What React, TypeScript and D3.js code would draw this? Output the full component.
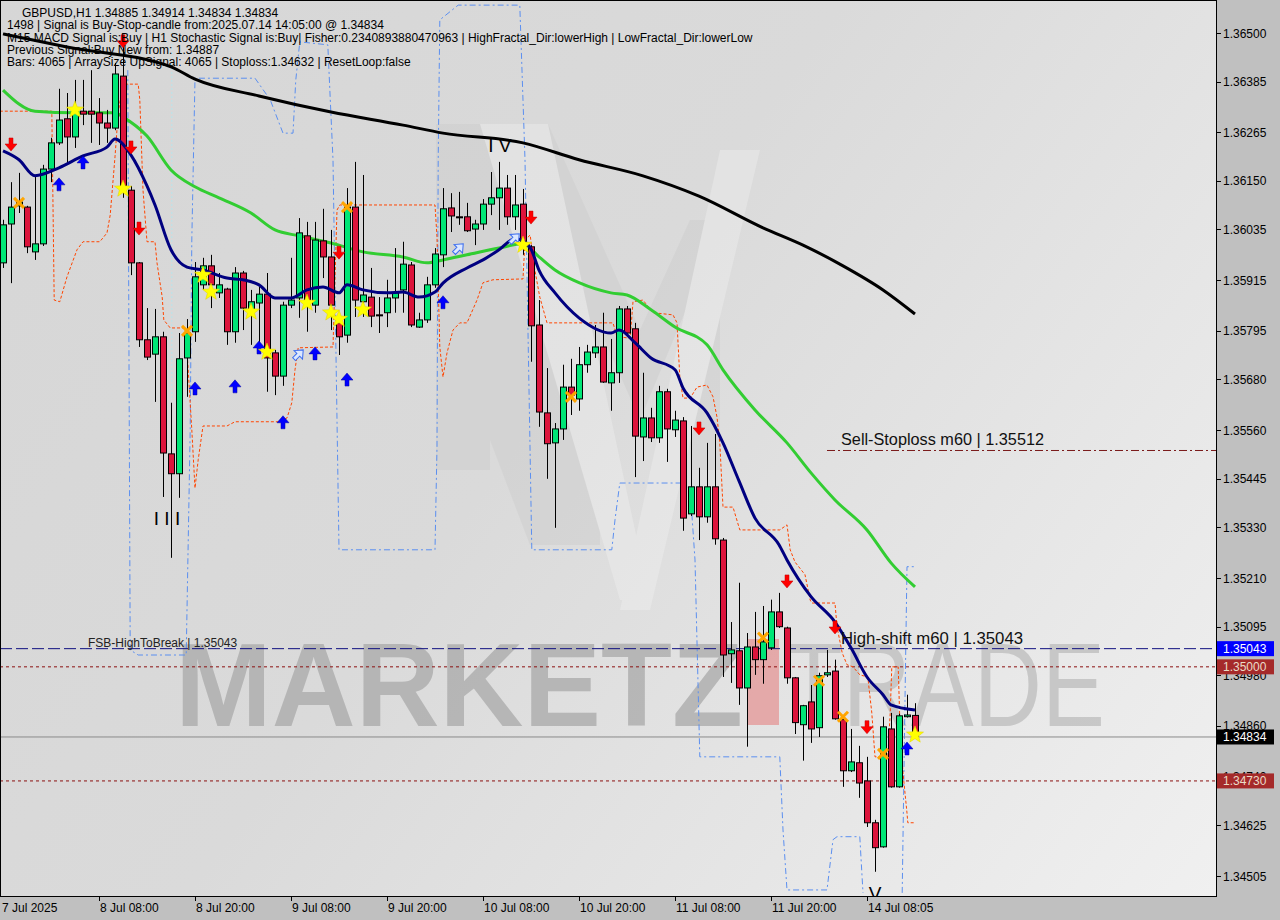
import React from "react";
import * as d3 from "d3";

// ---------- DATA (prices) ----------
const opens = [1.35956,1.36048,1.36091,1.36088,1.35982,1.36001,1.36178,1.36240,1.36297,1.36254,1.36315,1.36315,1.36311,1.36287,1.36275,1.36398,1.36128,1.35956,1.35774,1.35740,1.35781,1.35504,1.35457,1.35731,1.35793,1.35904,1.35949,1.35885,1.35894,1.35793,1.35932,1.35845,1.35861,1.35882,1.35743,1.35688,1.35856,1.35873,1.36020,1.35856,1.36008,1.35970,1.35814,1.35785,1.36088,1.35864,1.35875,1.35833,1.35838,1.35873,1.35892,1.35951,1.35804,1.35821,1.35904,1.35975,1.36086,1.36065,1.36065,1.36036,1.36048,1.36095,1.36110,1.36133,1.36065,1.36095,1.35994,1.35809,1.35601,1.35530,1.35563,1.35662,1.35634,1.35715,1.35743,1.35757,1.35672,1.35696,1.35847,1.35800,1.35544,1.35589,1.35542,1.35651,1.35561,1.35582,1.35362,1.35426,1.35355,1.35426,1.35300,1.35031,1.35038,1.34950,1.35047,1.35017,1.35045,1.35130,1.35092,1.34974,1.34863,1.34917,1.34856,1.34981,1.34990,1.34875,1.34754,1.34773,1.34730,1.34631,1.34574,1.34853,1.34716,1.34882,1.34885];
const highs = [1.36058,1.36147,1.36169,1.36091,1.36164,1.36188,1.36252,1.36368,1.36358,1.36389,1.36389,1.36412,1.36346,1.36318,1.36429,1.36479,1.36138,1.35958,1.35849,1.35847,1.35793,1.35625,1.35790,1.35823,1.35958,1.35968,1.35975,1.35932,1.35897,1.35946,1.35937,1.35892,1.35899,1.35932,1.35750,1.35864,1.35968,1.36062,1.36053,1.36053,1.36084,1.36034,1.35826,1.36133,1.36195,1.36164,1.35944,1.35875,1.35916,1.35991,1.36006,1.35958,1.35838,1.35923,1.35991,1.36133,1.36121,1.36124,1.36098,1.36058,1.36107,1.36171,1.36195,1.36164,1.36164,1.36131,1.35998,1.35868,1.35707,1.35577,1.35715,1.35729,1.35757,1.35762,1.35809,1.35838,1.35776,1.35854,1.35854,1.35814,1.35696,1.35613,1.35665,1.35658,1.35606,1.35591,1.35570,1.35471,1.35530,1.35551,1.35305,1.35106,1.35199,1.35080,1.35130,1.35144,1.35159,1.35175,1.35095,1.34976,1.34910,1.34957,1.34986,1.35040,1.35017,1.34882,1.34853,1.34813,1.34787,1.34638,1.34882,1.34891,1.34889,1.34934,1.34914];
const lows = [1.35944,1.35908,1.36074,1.35979,1.35963,1.35996,1.36147,1.36235,1.36188,1.36228,1.36282,1.36240,1.36235,1.36240,1.36270,1.36110,1.35927,1.35757,1.35726,1.35627,1.35402,1.35258,1.35400,1.35639,1.35769,1.35892,1.35849,1.35873,1.35762,1.35767,1.35797,1.35762,1.35755,1.35651,1.35643,1.35665,1.35849,1.35826,1.35793,1.35838,1.35920,1.35797,1.35738,1.35767,1.35828,1.35828,1.35804,1.35790,1.35804,1.35838,1.35838,1.35804,1.35802,1.35814,1.35897,1.35946,1.36029,1.36046,1.36029,1.35998,1.36034,1.36069,1.36034,1.36046,1.36034,1.35975,1.35722,1.35568,1.35445,1.35329,1.35537,1.35596,1.35606,1.35696,1.35731,1.35672,1.35606,1.35672,1.35781,1.35449,1.35487,1.35532,1.35530,1.35485,1.35544,1.35322,1.35357,1.35300,1.35341,1.35289,1.34976,1.34962,1.34910,1.34811,1.34981,1.34960,1.35040,1.35092,1.34960,1.34841,1.34778,1.34820,1.34834,1.34976,1.34875,1.34716,1.34751,1.34690,1.34621,1.34515,1.34572,1.34714,1.34714,1.34880,1.34834];
const closes = [1.36046,1.36088,1.36100,1.35994,1.36001,1.36178,1.36240,1.36294,1.36254,1.36313,1.36308,1.36308,1.36287,1.36275,1.36403,1.36138,1.35956,1.35774,1.35733,1.35781,1.35506,1.35457,1.35729,1.35790,1.35923,1.35949,1.35904,1.35904,1.35793,1.35932,1.35849,1.35864,1.35882,1.35731,1.35688,1.35856,1.35868,1.36027,1.35861,1.36010,1.35970,1.35856,1.35781,1.36088,1.35868,1.35880,1.35830,1.35832,1.35873,1.35885,1.35953,1.35809,1.35821,1.35904,1.35977,1.36084,1.36067,1.36064,1.36032,1.36048,1.36095,1.36110,1.36133,1.36065,1.36093,1.35994,1.35807,1.35603,1.35528,1.35563,1.35662,1.35643,1.35715,1.35745,1.35757,1.35674,1.35696,1.35847,1.35790,1.35546,1.35589,1.35542,1.35651,1.35563,1.35584,1.35352,1.35426,1.35355,1.35426,1.35303,1.35028,1.35040,1.34950,1.35047,1.35017,1.35059,1.35130,1.35095,1.34974,1.34868,1.34908,1.34853,1.34979,1.34986,1.34877,1.34754,1.34775,1.34725,1.34631,1.34572,1.34858,1.34716,1.34884,1.34886,1.34834];

// moving averages (bar index, price)
const maSlowIdx = [0,8,21,24,32,41,50,55,65,72,80,87,95,100,105,110,114];
const maSlowVal = [1.36498,1.36467,1.36420,1.36391,1.36351,1.36313,1.36282,1.36263,1.36240,1.36200,1.36162,1.36114,1.36039,1.35998,1.35949,1.35892,1.35835];
const maMidIdx = [0,4,9,14,15,18,21,24,27,31,34,37,41,45,50,53,55,58,62,65,67,69,72,76,78,81,84,88,90,94,98,101,104,108,111,114];
const maMidVal = [1.36365,1.36315,1.36311,1.36311,1.36301,1.36256,1.36176,1.36136,1.36110,1.36074,1.36034,1.36020,1.36003,1.35982,1.35970,1.35956,1.35963,1.35975,1.35991,1.36001,1.35970,1.35939,1.35909,1.35885,1.35880,1.35845,1.35804,1.35762,1.35703,1.35608,1.35530,1.35459,1.35395,1.35324,1.35246,1.35189];
const maFastIdx = [0,2,4,7,10,13,14,16,18,19,21,23,25,28,30,32,34,36,38,40,42,43,45,48,50,52,54,55,58,60,62,64,65,66,67,69,72,76,77,79,81,84,85,88,90,92,94,97,98,101,104,106,108,110,111,114];
const maFastVal = [1.36221,1.36200,1.36162,1.36181,1.36209,1.36230,1.36249,1.36211,1.36138,1.36093,1.35987,1.35946,1.35939,1.35920,1.35916,1.35904,1.35873,1.35873,1.35892,1.35899,1.35885,1.35904,1.35892,1.35885,1.35887,1.35875,1.35887,1.35908,1.35944,1.35963,1.35987,1.36013,1.36008,1.35989,1.35939,1.35885,1.35826,1.35790,1.35797,1.35767,1.35731,1.35703,1.35660,1.35601,1.35530,1.35440,1.35352,1.35289,1.35253,1.35166,1.35106,1.35045,1.34976,1.34934,1.34910,1.34898];

// trailing stop (orange dashed)
const stopIdx = [-0.4,6.1,6.4,7.1,8,9.25,10,12.1,13,13.4,14,14.4,14.9,15.5,16.9,17.1,17.5,18,19,19.25,19.9,20.1,20.9,22.75,23.1,23.6,24,24.4,25,28,29,34.4,35.5,36.1,36.5,36.9,41.25,41.75,42.1,54,54.25,54.6,55,55.5,56.25,57.1,58,59.25,60,61.25,65,65.25,65.9,66.25,67.1,68,76.25,76.75,78.4,78.75,80,81.25,83.75,84.25,84.6,85,85.9,86.75,88,88.75,89.25,89.6,90,91.25,92.1,97.1,98,98.4,99,100.25,100.9,101.1,104,104.25,104.9,105.5,106.25,107.1,108.1,108.6,109,110.6,110.9,111.1,111.9,112.1,112.5,113,113.1,114];
const stopVal = [1.36315,1.36315,1.35868,1.35864,1.35923,1.35987,1.36006,1.36006,1.36027,1.36069,1.36207,1.36311,1.36372,1.36379,1.36379,1.36342,1.36128,1.36006,1.36006,1.35956,1.35875,1.35821,1.35802,1.35802,1.35719,1.35561,1.35423,1.35490,1.35570,1.35570,1.35580,1.35580,1.35589,1.35625,1.35703,1.35755,1.35757,1.36081,1.36093,1.36093,1.36017,1.35757,1.35686,1.35743,1.35797,1.35814,1.35814,1.35868,1.35909,1.35916,1.35918,1.36010,1.36022,1.35963,1.35875,1.35814,1.35814,1.35781,1.35778,1.35864,1.35868,1.35838,1.35833,1.35814,1.35686,1.35636,1.35636,1.35662,1.35667,1.35639,1.35591,1.35530,1.35378,1.35378,1.35324,1.35324,1.35336,1.35277,1.35248,1.35218,1.35158,1.35151,1.35151,1.35095,1.35033,1.35005,1.35000,1.34981,1.34976,1.34891,1.34787,1.34787,1.34891,1.35000,1.35000,1.34875,1.34749,1.34654,1.34631,1.34631];

// fractal channel (blue dash-dot)
const chanAIdx = [15.6,15.9,16.9,22.9,23.4,23.6,24,31.5,33.4,35,36.25,36.6,37.1,40.6,41.25,42,54,54.25,54.4,54.6,56.9,64.6,65.25,66.1,76.1,76.5,77.1,85,85.9,86.5,87.1,97.1,97.5,98,103,103.75,104.25,107.1,107.5];
const chanAVal = [1.36412,1.35040,1.35028,1.35028,1.35561,1.36010,1.36393,1.36393,1.36342,1.36263,1.36263,1.36389,1.36479,1.36472,1.36200,1.35277,1.35277,1.35520,1.36200,1.36531,1.36566,1.36566,1.36200,1.35277,1.35277,1.35348,1.35435,1.35435,1.35419,1.35253,1.34787,1.34787,1.34614,1.34472,1.34472,1.34591,1.34598,1.34598,1.34465];
const chanBIdx = [112.4,112.75,113,114];
const chanBVal = [1.34465,1.34922,1.35237,1.35237];

// signal markers (bar index, price)
const sellArrowIdx = [1,15,16,17,42,66,87,98,104,108];
const sellArrowVal = [1.36235,1.36479,1.36228,1.36036,1.35979,1.36062,1.35563,1.35201,1.35092,1.34856];
const buyArrowIdx = [7,10,24,29,32,35,39,43,55,113];
const buyArrowVal = [1.36143,1.36195,1.35660,1.35665,1.35757,1.35580,1.35743,1.35681,1.35864,1.34808];
const starIdx = [9,15,25,26,31,33,38,41,42,45,65,114];
const starVal = [1.36318,1.36131,1.35927,1.35887,1.35840,1.35745,1.35861,1.35838,1.35823,1.35845,1.35998,1.34839];
const crossIdx = [2,23,43,71,95,102,105,110];
const crossVal = [1.36098,1.35795,1.36088,1.35639,1.35069,1.34967,1.34882,1.34794];
const hollowIdx = [37,57,64];
const hollowVal = [1.35740,1.35991,1.36015];
const waveLabels = ["I I I", "I V", "V"];
const waveIdx = [20.5, 62.1, 109];
const waveVal = [1.35336, 1.36218, 1.34449];

// horizontal levels
const levelFSB = 1.35043;
const levelRound = 1.35;
const levelLow = 1.3473;
const levelBid = 1.34834;
const levelSellSL = 1.35512;

// axes
const yTickVals = [1.365,1.36385,1.36265,1.3615,1.36035,1.35915,1.35795,1.3568,1.3556,1.35445,1.3533,1.3521,1.35095,1.3498,1.3486,1.3474,1.34625,1.34505];
const yTickLabels = ["1.36500","1.36385","1.36265","1.36150","1.36035","1.35915","1.35795","1.35680","1.35560","1.35445","1.35330","1.35210","1.35095","1.34980","1.34860","1.34740","1.34625","1.34505"];
const xTickIdx = [0,12,24,36,48,60,72,84,96,108];
const xTickLabels = ["7 Jul 2025","8 Jul 08:00","8 Jul 20:00","9 Jul 08:00","9 Jul 20:00","10 Jul 08:00","10 Jul 20:00","11 Jul 08:00","11 Jul 20:00","14 Jul 08:05"];

const headerLines = [
  "GBPUSD,H1  1.34885 1.34914 1.34834 1.34834",
  "1498 | Signal is Buy-Stop-candle from:2025.07.14 14:05:00 @ 1.34834",
  "M15 MACD Signal is:Buy | H1 Stochastic Signal is:Buy| Fisher:0.2340893880470963 | HighFractal_Dir:lowerHigh | LowFractal_Dir:lowerLow",
  "Previous Signal:Buy New from: 1.34887",
  "Bars: 4065 | ArraySize UpSignal: 4065 | Stoploss:1.34632 | ResetLoop:false",
];

const priceBoxes = [
  { v: 1.35043, label: "1.35043", bg: "#0000ff", fg: "#ffffff" },
  { v: 1.35, label: "1.35000", bg: "#a52a2a", fg: "#eadcc8" },
  { v: 1.34834, label: "1.34834", bg: "#000000", fg: "#ffffff" },
  { v: 1.3473, label: "1.34730", bg: "#a52a2a", fg: "#eadcc8" },
];

// ---------- RENDER ----------
const FONT = "'Liberation Sans', Arial, sans-serif";
const PR = 1216; // plot right
const PB = 896; // plot bottom

function starPath(r1: number, r2: number) {
  const pts: string[] = [];
  for (let k = 0; k < 10; k++) {
    const r = k % 2 === 0 ? r1 : r2;
    const a = -Math.PI / 2 + (k * Math.PI) / 5;
    pts.push(`${(r * Math.cos(a)).toFixed(2)},${(r * Math.sin(a)).toFixed(2)}`);
  }
  return "M" + pts.join("L") + "Z";
}

export default function App() {
  const x = d3.scaleLinear().domain([0, 114]).range([3, 915]);
  const y = d3.scaleLinear().domain([1.34505, 1.365]).range([876, 33]);

  const mkLine = (idx: number[], vals: number[], curve: d3.CurveFactory) =>
    d3
      .line<number>()
      .x((_, k) => x(idx[k]))
      .y((v) => y(v))
      .curve(curve)(vals) || "";

  const downArrow = "M-2,-7L2,-7L2,-1L6,-1L0,6L-6,-1L-2,-1Z";
  const upArrow = "M-2,7L2,7L2,1L6,1L0,-6L-6,1L-2,1Z";
  const star = starPath(9, 3.8);

  return (
    <svg
      width={1280}
      height={920}
      style={{ position: "absolute", left: 0, top: 0, display: "block" }}
      fontFamily={FONT}
    >
      <defs>
        <linearGradient id="bg" x1="0" y1="0" x2={PR} y2={PB} gradientUnits="userSpaceOnUse">
          <stop offset="0" stopColor="#d6d6d6" />
          <stop offset="0.45" stopColor="#dadada" />
          <stop offset="1" stopColor="#f0f0f0" />
        </linearGradient>
        <clipPath id="plot">
          <rect x={0} y={0} width={PR} height={PB} />
        </clipPath>
      </defs>
      <rect x={0} y={0} width={1280} height={920} fill="#c0c0c0" />
      <rect x={0} y={0} width={PR} height={PB} fill="url(#bg)" />

      <g clipPath="url(#plot)">
        {/* faint logo watermark */}
        <g opacity={0.35}>
          <path d="M436,124L548,124L640,330L690,220L720,220L720,470L690,470L690,300L640,420L600,330L600,545L530,545L490,440L490,470L436,470Z" fill="#c8c8c8" />
          <path d="M480,124L548,124L650,600L620,600Z" fill="#f4f4f4" />
          <path d="M720,150L760,150L650,610L620,610Z" fill="#f4f4f4" />
        </g>
        {/* MARKETZITRADE watermark */}
        <text x={175} y={726} fontSize={118} fontWeight={700} fill="#a9a9a9" opacity={0.75} textLength={568} lengthAdjust="spacingAndGlyphs">MARKETZ</text>
        <rect x={747} y={639} width={32} height={86} fill="#e3a2a2" opacity={0.9} />
        <text x={785} y={726} fontSize={118} fontWeight={300} fill="#c2c2c2" opacity={0.85} textLength={320} lengthAdjust="spacingAndGlyphs">TRADE</text>

        {/* light guide */}
        <line x1={x(21.1)} x2={x(21.1)} y1={0} y2={y(1.35632)} stroke="#b8e4ec" strokeDasharray="2,2" />

        {/* fractal channel */}
        <path d={mkLine(chanAIdx, chanAVal, d3.curveLinear)} fill="none" stroke="#5b8ff0" strokeWidth={1} strokeDasharray="6,3,2,3" />
        <path d={mkLine(chanBIdx, chanBVal, d3.curveLinear)} fill="none" stroke="#5b8ff0" strokeWidth={1} strokeDasharray="6,3,2,3" />

        {/* levels */}
        <line x1={0} x2={PR} y1={y(levelFSB)} y2={y(levelFSB)} stroke="#101080" strokeDasharray="12,4" strokeWidth={1} />
        <line x1={0} x2={PR} y1={y(levelRound)} y2={y(levelRound)} stroke="#8b1010" strokeDasharray="3,3" strokeWidth={1} />
        <line x1={0} x2={PR} y1={y(levelLow)} y2={y(levelLow)} stroke="#8b1010" strokeDasharray="3,3" strokeWidth={1} />
        <line x1={0} x2={PR} y1={y(levelBid)} y2={y(levelBid)} stroke="#8a8a8a" strokeWidth={1} />
        <line x1={827} x2={PR} y1={y(levelSellSL)} y2={y(levelSellSL)} stroke="#7a1a1a" strokeDasharray="8,3,2,3" strokeWidth={1} />

        {/* trailing stop */}
        <path d={mkLine(stopIdx, stopVal, d3.curveLinear)} fill="none" stroke="#ff4500" strokeWidth={1} strokeDasharray="3,2" />

        {/* moving averages */}
        <path d={mkLine(maSlowIdx, maSlowVal, d3.curveMonotoneX)} fill="none" stroke="#000000" strokeWidth={3} />
        <path d={mkLine(maMidIdx, maMidVal, d3.curveMonotoneX)} fill="none" stroke="#32cd32" strokeWidth={3} />

        {/* candles */}
        {opens.map((o, i) => {
          const c = closes[i];
          const bull = c >= o;
          const top = y(Math.max(o, c));
          const bot = y(Math.min(o, c));
          const cx = Math.round(x(i)) + 0.5;
          return (
            <g key={i}>
              <line x1={cx} x2={cx} y1={y(highs[i])} y2={y(lows[i])} stroke="#000" strokeWidth={1} />
              <rect x={cx - 3} y={top} width={6} height={Math.max(1, bot - top)} fill={bull ? "#00e676" : "#dc143c"} stroke="#000" strokeWidth={1} />
            </g>
          );
        })}

        <path d={mkLine(maFastIdx, maFastVal, d3.curveMonotoneX)} fill="none" stroke="#000080" strokeWidth={3} />

        {/* markers */}
        {crossIdx.map((ix, k) => (
          <g key={"x" + k} transform={`translate(${x(ix)},${y(crossVal[k])})`} stroke="#ffa500" strokeWidth={3}>
            <line x1={-5} y1={-5} x2={5} y2={5} />
            <line x1={-5} y1={5} x2={5} y2={-5} />
          </g>
        ))}
        {sellArrowIdx.map((ix, k) => (
          <path key={"s" + k} d={downArrow} transform={`translate(${x(ix)},${y(sellArrowVal[k])})`} fill="#ff0000" stroke="#c00000" strokeWidth={0.5} />
        ))}
        {buyArrowIdx.map((ix, k) => (
          <path key={"b" + k} d={upArrow} transform={`translate(${x(ix)},${y(buyArrowVal[k])})`} fill="#0000ff" stroke="#0000a0" strokeWidth={0.5} />
        ))}
        {hollowIdx.map((ix, k) => (
          <path key={"h" + k} d={upArrow} transform={`translate(${x(ix)},${y(hollowVal[k])}) rotate(45)`} fill="#dce8ff" stroke="#3a6cf0" strokeWidth={1} />
        ))}
        {starIdx.map((ix, k) => (
          <path key={"st" + k} d={star} transform={`translate(${x(ix)},${y(starVal[k])})`} fill="#ffff00" stroke="#e0d000" strokeWidth={0.5} />
        ))}

        {/* wave labels */}
        {waveLabels.map((t, k) => (
          <text key={"w" + k} x={x(waveIdx[k])} y={y(waveVal[k])} textAnchor="middle" fontSize={19} fill="#000">{t}</text>
        ))}

        {/* level texts */}
        <text x={88} y={647} fontSize={12} fill="#222">FSB-HighToBreak | 1.35043</text>
        <text x={841} y={644} fontSize={16} fill="#111" textLength={182} lengthAdjust="spacingAndGlyphs">High-shift m60 | 1.35043</text>
        <text x={841} y={445} fontSize={16} fill="#111" textLength={203} lengthAdjust="spacingAndGlyphs">Sell-Stoploss m60 | 1.35512</text>

        {/* header */}
        {headerLines.map((t, k) => (
          <text key={"hd" + k} x={k === 0 ? 22 : 7} y={17 + k * 12.25} fontSize={12} fill="#000">{t}</text>
        ))}
      </g>

      {/* frame */}
      <rect x={0.5} y={0.5} width={PR} height={PB} fill="none" stroke="#000" strokeWidth={1} />

      {/* right axis */}
      {yTickVals.map((v, k) => (
        <g key={"yt" + k}>
          <line x1={PR} x2={PR + 5} y1={Math.round(y(v)) + 0.5} y2={Math.round(y(v)) + 0.5} stroke="#000" />
          <text x={1223} y={y(v) + 4.5} fontSize={12} fill="#000">{yTickLabels[k]}</text>
        </g>
      ))}
      {priceBoxes.map((b, k) => (
        <g key={"pb" + k}>
          <rect x={PR + 1} y={y(b.v) - 7.5} width={57} height={15} fill={b.bg} />
          <text x={1223} y={y(b.v) + 4.5} fontSize={12} fill={b.fg}>{b.label}</text>
        </g>
      ))}

      {/* bottom axis */}
      {xTickIdx.map((ix, k) => (
        <g key={"xt" + k}>
          {k > 0 && <line x1={Math.round(x(ix)) + 0.5} x2={Math.round(x(ix)) + 0.5} y1={PB} y2={PB + 5} stroke="#000" />}
          <text x={k === 0 ? 2 : x(ix) + 1} y={912} fontSize={12} fill="#000">{xTickLabels[k]}</text>
        </g>
      ))}
    </svg>
  );
}
